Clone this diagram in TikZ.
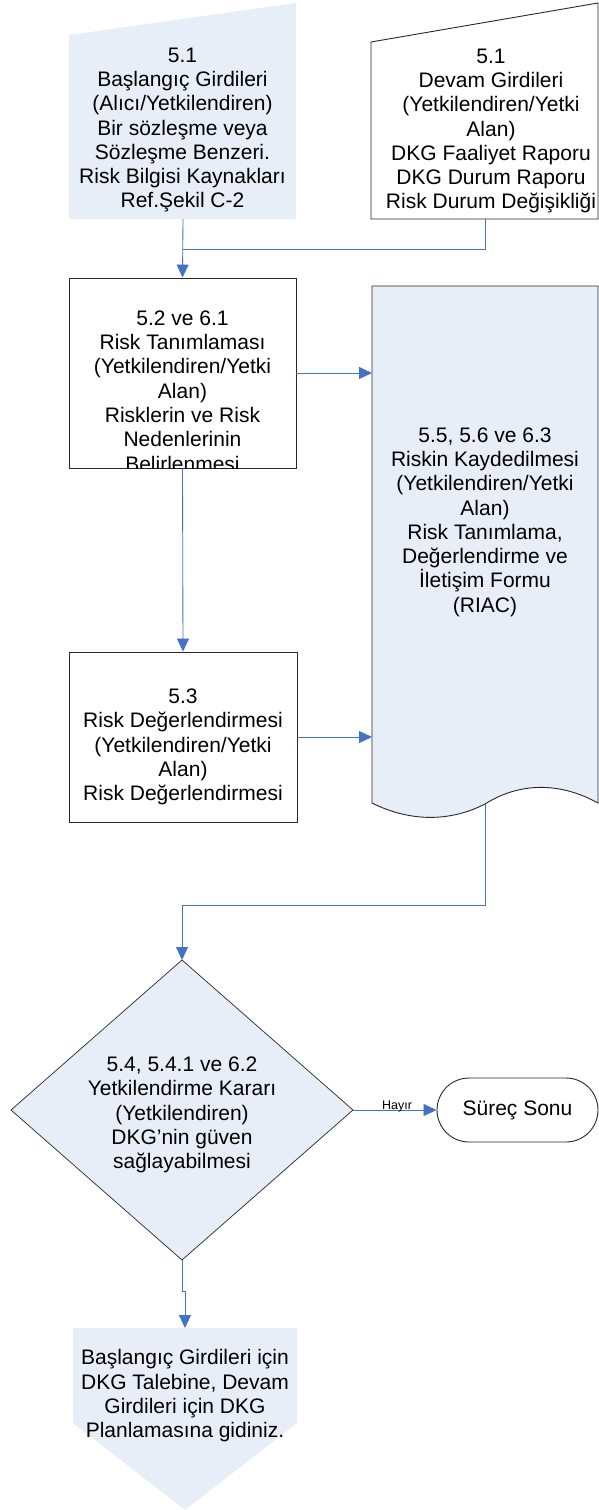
\documentclass[tikz,border=0pt]{standalone}
\usepackage{fontspec}
\setmainfont{Liberation Sans}
\usetikzlibrary{arrows.meta,calc}
\definecolor{lb}{RGB}{232,238,247}
\definecolor{cn}{RGB}{68,114,196}
\definecolor{bd}{RGB}{40,40,40}
\begin{document}
\begin{tikzpicture}[x=1pt,y=-1pt,
  txt/.style={align=center,font=\fontsize{21}{24.3}\selectfont,inner sep=0pt},
  conn/.style={draw=cn,line width=0.85pt},
  arr/.style={conn,-{Triangle[length=13pt,width=12pt]}},
  boxline/.style={draw=bd,line width=0.9pt},
  procbox/.style={boxline,rectangle,fill=white,inner sep=0pt}]
\useasboundingbox (0,0) rectangle (599,1510);

% 5.1 Baslangic girdileri (manual input)
\fill[lb] (69,35) -- (296,3) -- (296,219) -- (69,219) -- cycle;
\node[txt] (t1) at (182.5,130) {5.1\\Başlangıç Girdileri\\(Alıcı/Yetkilendiren)\\Bir sözleşme veya\\Sözleşme Benzeri.\\Risk Bilgisi Kaynakları\\Ref.Şekil C-2};
\coordinate (b1s) at (183,219);

% 5.1 Devam girdileri (manual input)
\draw[boxline,fill=white] (371,42) -- (598,3) -- (598,219) -- (371,219) -- cycle;
\node[txt] (t2) at (491,131) {5.1\\Devam Girdileri\\(Yetkilendiren/Yetki\\Alan)\\DKG Faaliyet Raporu\\DKG Durum Raporu\\Risk Durum Değişikliği};
\coordinate (b2s) at (485,219);
\coordinate (j1) at (183,249);

% 5.2 ve 6.1
\node[procbox,minimum width=227pt,minimum height=190pt] (b3) at (182.5,373) {};
\begin{scope}
\clip (69,278) rectangle (296,468);
\node[txt] (t3) at (182.5,391) {5.2 ve 6.1\\Risk Tanımlaması\\(Yetkilendiren/Yetki\\Alan)\\Risklerin ve Risk\\Nedenlerinin\\Belirlenmesi};
\end{scope}

% 5.3
\node[procbox,minimum width=228pt,minimum height=170pt] (b4) at (183,737) {};
\node[txt] (t4) at (183,747) {5.3\\Risk Değerlendirmesi\\(Yetkilendiren/Yetki\\Alan)\\Risk Değerlendirmesi};

% document 5.5, 5.6 ve 6.3
\draw[boxline,fill=lb] (372,286) -- (598,286) -- (598,803)
  .. controls (560,782) and (520,782) .. (485,804)
  .. controls (450,822) and (410,822) .. (372,803) -- cycle;
\node[txt] (t5) at (485,522) {5.5, 5.6 ve 6.3\\Riskin Kaydedilmesi\\(Yetkilendiren/Yetki\\Alan)\\Risk Tanımlama,\\Değerlendirme ve\\İletişim Formu\\(RIAC)};
\coordinate (docw) at (372,0);
\coordinate (docb) at (485,804);

% decision diamond
\draw[boxline,line width=0.7pt,fill=lb] (182,960) -- (353,1110) -- (182,1260) -- (11,1110) -- cycle;
\node[txt] (t6) at (182,1115) {5.4, 5.4.1 ve 6.2\\Yetkilendirme Kararı\\(Yetkilendiren)\\DKG’nin güven\\sağlayabilmesi};
\coordinate (dtop) at (182,960);
\coordinate (dright) at (353,1110);
\coordinate (dbot) at (182,1260);

% terminator
\node[boxline,fill=white,rounded corners=32pt,minimum width=161pt,minimum height=64pt,
  font=\fontsize{21}{24.3}\selectfont] (end) at (517.5,1110) {Süreç Sonu};

% off-page reference
\fill[lb] (73,1328) -- (297,1328) -- (297,1423) -- (185,1510) -- (73,1423) -- cycle;
\node[txt] (t7) at (185,1396) {Başlangıç Girdileri için\\DKG Talebine, Devam\\Girdileri için DKG\\Planlamasına gidiniz.};
\coordinate (ptop) at (185,1328);

% connectors
\draw[arr] (b1s) -- (b3.north);
\draw[conn] (b2s) |- (j1);
\draw[arr] (b3.east) -- (b3.east -| docw);
\draw[arr] (b3.south) -- (b4.north);
\draw[arr] (b4.east) -- (b4.east -| docw);
\draw[arr] (docb) -- ++(0,101) -| (dtop);
\draw[arr] (dright) -- (end.west);
\node[font=\fontsize{12.5}{14}\selectfont,inner sep=0pt] (hayir) at (397,1106) {Hayır};
\draw[arr] (dbot) -- ++(0,31) -| (ptop);
\end{tikzpicture}
\end{document}
